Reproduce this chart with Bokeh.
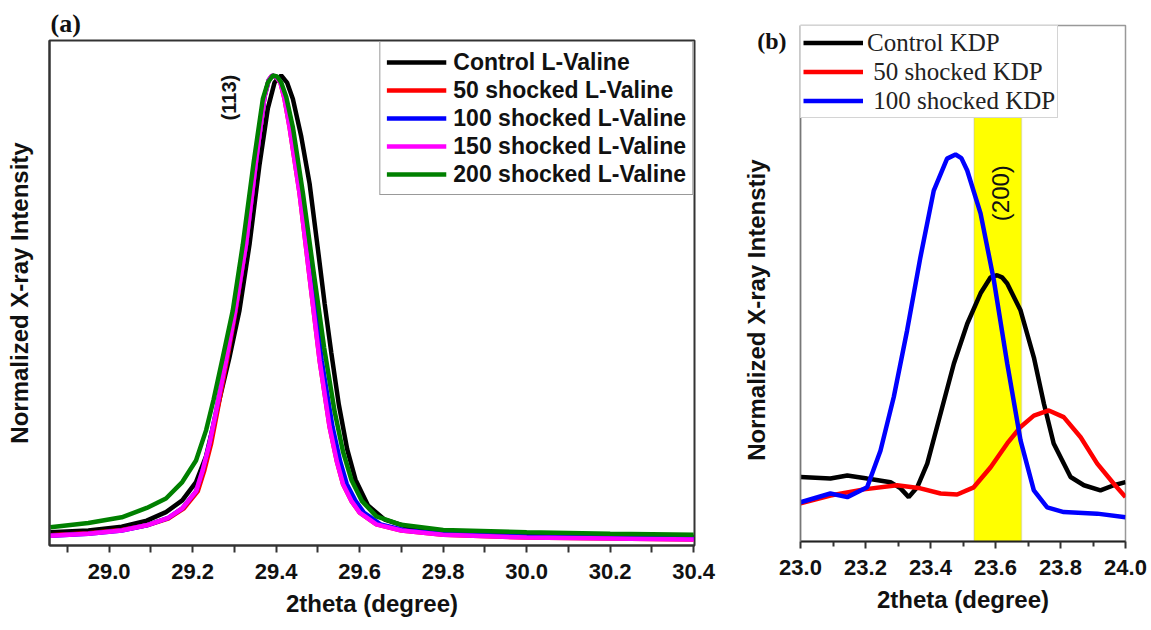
from math import pi
from bokeh.plotting import figure
from bokeh.layouts import row, column
from bokeh.models import FixedTicker, Label, BoxAnnotation, Range1d
from bokeh.embed import file_html
from bokeh.resources import INLINE

# ---------------- Panel (a): L-Valine (113) ----------------
a_labels = ["Control L-Valine", "50 shocked L-Valine", "100 shocked L-Valine",
            "150 shocked L-Valine", "200 shocked L-Valine"]
a_colors = ["#000000", "#ff0000", "#0000ff", "#ff00ff", "#008000"]

a_ctrl_x = [28.859, 28.95, 29.03, 29.09, 29.136, 29.175, 29.208, 29.232, 29.248, 29.264,
            29.288, 29.312, 29.336, 29.360, 29.380, 29.396, 29.412, 29.426, 29.440, 29.460,
            29.480, 29.500, 29.516, 29.532, 29.550, 29.570, 29.590, 29.620, 29.660, 29.720,
            29.800, 30.000, 30.200, 30.400]
a_ctrl_y = [0.028, 0.032, 0.040, 0.053, 0.071, 0.096, 0.135, 0.190, 0.250, 0.310,
            0.400, 0.500, 0.640, 0.810, 0.930, 0.985, 1.000, 0.985, 0.950, 0.870,
            0.770, 0.630, 0.515, 0.410, 0.300, 0.205, 0.140, 0.085, 0.055, 0.038,
            0.030, 0.024, 0.020, 0.018]

a_50_x = [28.859, 28.95, 29.03, 29.09, 29.143, 29.179, 29.212, 29.228, 29.244, 29.259,
          29.282, 29.303, 29.328, 29.352, 29.372, 29.382, 29.390, 29.400, 29.410, 29.420,
          29.432, 29.456, 29.480, 29.504, 29.528, 29.545, 29.560, 29.580, 29.600, 29.640,
          29.700, 29.800, 30.000, 30.200, 30.400]
a_50_y = [0.022, 0.026, 0.033, 0.043, 0.058, 0.079, 0.115, 0.160, 0.216, 0.285,
          0.394, 0.500, 0.642, 0.819, 0.955, 0.990, 1.000, 0.997, 0.985, 0.950,
          0.890, 0.749, 0.571, 0.394, 0.252, 0.180, 0.131, 0.095, 0.070, 0.045,
          0.032, 0.023, 0.017, 0.015, 0.013]

a_100_x = [28.859, 28.95, 29.03, 29.09, 29.14, 29.175, 29.208, 29.224, 29.240, 29.256,
           29.280, 29.302, 29.328, 29.352, 29.372, 29.382, 29.391, 29.401, 29.411, 29.422,
           29.434, 29.459, 29.484, 29.509, 29.535, 29.553, 29.569, 29.590, 29.610, 29.650,
           29.710, 29.800, 30.000, 30.200, 30.400]
a_100_y = [0.021, 0.025, 0.032, 0.043, 0.058, 0.079, 0.115, 0.160, 0.216, 0.285,
           0.394, 0.500, 0.642, 0.819, 0.955, 0.990, 1.000, 0.997, 0.985, 0.950,
           0.890, 0.749, 0.571, 0.394, 0.252, 0.180, 0.131, 0.095, 0.070, 0.045,
           0.032, 0.025, 0.019, 0.017, 0.015]

a_150_x = [28.859, 28.95, 29.03, 29.09, 29.14, 29.175, 29.208, 29.224, 29.240, 29.256,
           29.280, 29.302, 29.328, 29.352, 29.372, 29.382, 29.390, 29.400, 29.410, 29.420,
           29.432, 29.456, 29.480, 29.504, 29.528, 29.545, 29.560, 29.580, 29.600, 29.640,
           29.700, 29.800, 30.000, 30.200, 30.400]
a_150_y = [0.021, 0.025, 0.032, 0.043, 0.058, 0.079, 0.115, 0.160, 0.216, 0.285,
           0.394, 0.500, 0.642, 0.819, 0.955, 0.990, 1.000, 0.997, 0.985, 0.950,
           0.890, 0.749, 0.571, 0.394, 0.252, 0.180, 0.131, 0.095, 0.070, 0.045,
           0.032, 0.023, 0.017, 0.015, 0.013]

a_200_x = [28.859, 28.95, 29.03, 29.09, 29.136, 29.175, 29.208, 29.232, 29.250, 29.272,
           29.296, 29.320, 29.346, 29.368, 29.380, 29.392, 29.402, 29.412, 29.424, 29.440,
           29.464, 29.490, 29.515, 29.540, 29.560, 29.580, 29.605, 29.640, 29.700, 29.800,
           30.000, 30.200, 30.400]
a_200_y = [0.039, 0.048, 0.060, 0.080, 0.100, 0.135, 0.181, 0.245, 0.310, 0.400,
           0.500, 0.640, 0.815, 0.950, 0.985, 1.000, 0.998, 0.985, 0.955, 0.890,
           0.750, 0.580, 0.420, 0.285, 0.200, 0.140, 0.095, 0.062, 0.044, 0.033,
           0.028, 0.025, 0.023]

a_x = [a_ctrl_x, a_50_x, a_100_x, a_150_x, a_200_x]
a_y = [a_ctrl_y, a_50_y, a_100_y, a_150_y, a_200_y]

a_ticks = [29.0, 29.2, 29.4, 29.6, 29.8, 30.0, 30.2, 30.4]
a_tick_labels = ["29.0", "29.2", "29.4", "29.6", "29.8", "30.0", "30.2", "30.4"]
a_minor = [28.9, 29.1, 29.3, 29.5, 29.7, 29.9, 30.1, 30.3]
a_peak_label = "(113)"
a_peak_pos = (29.288, 0.953)

# ---------------- Panel (b): KDP (200) ----------------
b_labels = ["Control KDP", " 50 shocked KDP", " 100 shocked KDP"]
b_colors = ["#000000", "#ff0000", "#0000ff"]

b_ctrl_x = [23.000, 23.092, 23.144, 23.205, 23.277, 23.308, 23.333, 23.359, 23.390, 23.431,
            23.472, 23.513, 23.554, 23.585, 23.605, 23.620, 23.636, 23.677, 23.718, 23.749,
            23.779, 23.831, 23.872, 23.923, 23.964, 24.000]
b_ctrl_y = [12.5, 12.2, 12.8, 12.2, 11.5, 10.3, 8.6, 10.5, 15.1, 24.8,
            34.5, 42.2, 48.1, 51.2, 51.6, 51.2, 50.0, 44.8, 35.7, 26.7,
            19.0, 12.5, 10.9, 9.9, 10.9, 11.5]

b_50_x = [23.000, 23.092, 23.195, 23.297, 23.369, 23.431, 23.482, 23.533, 23.585, 23.636,
          23.677, 23.718, 23.764, 23.810, 23.862, 23.913, 23.964, 24.000]
b_50_y = [7.4, 8.9, 10.1, 10.9, 10.3, 9.3, 9.1, 10.5, 14.4, 19.0,
          22.2, 24.4, 25.4, 24.1, 20.2, 15.1, 11.2, 8.6]

b_100_x = [23.000, 23.092, 23.144, 23.205, 23.246, 23.287, 23.328, 23.369, 23.410, 23.451,
           23.477, 23.495, 23.513, 23.554, 23.595, 23.636, 23.677, 23.718, 23.759, 23.810,
           23.913, 24.000]
b_100_y = [7.6, 9.3, 8.6, 10.5, 17.6, 28.0, 40.9, 55.1, 68.0, 74.2,
           75.0, 74.3, 71.9, 63.6, 50.6, 34.5, 19.6, 9.9, 6.6, 5.7,
           5.4, 4.7]

b_x = [b_ctrl_x, b_50_x, b_100_x]
b_y = [b_ctrl_y, b_50_y, b_100_y]

b_ticks = [23.0, 23.2, 23.4, 23.6, 23.8, 24.0]
b_tick_labels = ["23.0", "23.2", "23.4", "23.6", "23.8", "24.0"]
b_minor = [23.1, 23.3, 23.5, 23.7, 23.9]
b_band = (23.534, 23.680)
b_peak_label = "(200)"
b_peak_pos = (23.615, 67.5)
b_tag = "(b)"
b_tag_y = 97.0

SANS = "Liberation Sans"
SERIF = "Liberation Serif"


def style_axis(ax, label_size="24px", tick_size="22px"):
    ax.axis_label_text_font = SANS
    ax.axis_label_text_font_style = "bold"
    ax.axis_label_text_font_size = label_size
    ax.axis_label_text_color = "#111111"
    ax.major_label_text_font = SANS
    ax.major_label_text_font_style = "bold"
    ax.major_label_text_font_size = tick_size
    ax.major_label_text_color = "#111111"
    ax.major_tick_line_color = "#333333"
    ax.minor_tick_line_color = "#333333"
    ax.major_tick_line_width = 2
    ax.minor_tick_line_width = 2


# ---------------- figure (a) ----------------
pa = figure(width=720, height=630, output_backend="svg", toolbar_location=None,
            title="(a)",
            x_range=Range1d(28.857, 30.402), y_range=Range1d(0, 1.0745),
            min_border_left=49, min_border_right=26, min_border_top=40, min_border_bottom=85)
pa.title.align = "left"
pa.title.offset = 1
pa.title.standoff = 5
pa.title.text_font = SERIF
pa.title.text_font_style = "bold"
pa.title.text_font_size = "26px"
pa.title.text_color = "#111111"
pa.grid.visible = False
pa.outline_line_color = "#333333"
pa.outline_line_width = 2

for xs, ys, c, lbl in zip(a_x, a_y, a_colors, a_labels):
    pa.line(xs, ys, line_color=c, line_width=4.5, legend_label=lbl)

pa.xaxis.ticker = FixedTicker(ticks=a_ticks, minor_ticks=a_minor)
pa.xaxis.major_label_overrides = dict(zip(a_ticks, a_tick_labels))
pa.xaxis.axis_label = "2theta (degree)"
pa.yaxis.axis_label = "Normalized X-ray Intensity"
for ax in (pa.xaxis, pa.yaxis):
    style_axis(ax)
    ax.axis_line_color = "#333333"
    ax.axis_line_width = 2
pa.xaxis.major_tick_out = 7
pa.xaxis.major_tick_in = 0
pa.xaxis.minor_tick_out = 7
pa.xaxis.minor_tick_in = 0
pa.xaxis.major_label_standoff = 11
pa.xaxis.axis_label_standoff = 8
pa.yaxis.ticker = FixedTicker(ticks=[])
pa.yaxis.major_label_text_font_size = "0px"
pa.yaxis.major_tick_out = 0
pa.yaxis.minor_tick_out = 0
pa.yaxis.major_label_standoff = 0
pa.yaxis.axis_label_standoff = 17

lg = pa.legend[0]
lg.location = "top_right"
lg.margin = 1
lg.padding = 6
lg.spacing = 0
lg.glyph_width = 60
lg.glyph_height = 28
lg.label_height = 28
lg.label_standoff = 7
lg.label_text_font = SANS
lg.label_text_font_style = "bold"
lg.label_text_font_size = "23px"
lg.label_text_color = "#111111"
lg.border_line_color = "#333333"
lg.border_line_width = 1.5
lg.background_fill_color = "white"
lg.background_fill_alpha = 1.0

pa.add_layout(Label(x=a_peak_pos[0], y=a_peak_pos[1], text=a_peak_label, angle=pi / 2,
                    text_align="center", text_baseline="middle", text_font=SANS,
                    text_font_style="bold", text_font_size="20px", text_color="#111111"))

# ---------------- figure (b) ----------------
pb = figure(width=431, height=630, output_backend="svg", toolbar_location=None,
            title=None,
            x_range=Range1d(23.0, 24.0), y_range=Range1d(0, 100),
            min_border_left=80, min_border_right=26, min_border_top=25, min_border_bottom=89)
pb.grid.visible = False
pb.outline_line_color = "#999999"
pb.outline_line_width = 1.5

pb.add_layout(BoxAnnotation(left=b_band[0], right=b_band[1], fill_color="#ffff00",
                            fill_alpha=1.0, line_color="#aaaaaa", line_width=1.5,
                            level="underlay"))

for xs, ys, c, lbl in zip(b_x, b_y, b_colors, b_labels):
    pb.line(xs, ys, line_color=c, line_width=4.5, legend_label=lbl)

pb.xaxis.ticker = FixedTicker(ticks=b_ticks, minor_ticks=b_minor)
pb.xaxis.major_label_overrides = dict(zip(b_ticks, b_tick_labels))
pb.xaxis.axis_label = "2theta (degree)"
# trailing no-break spaces move the (bottom-to-top) label a little lower, as in the original
pb.yaxis.axis_label = "Normalized X-ray Intenstiy" + "\u00a0" * 8
for ax in (pb.xaxis, pb.yaxis):
    style_axis(ax)
pb.xaxis.axis_line_color = "#222222"
pb.xaxis.axis_line_width = 2
pb.yaxis.axis_line_color = "#777777"
pb.yaxis.axis_line_width = 1.5
pb.xaxis.major_tick_out = 7
pb.xaxis.major_tick_in = 0
pb.xaxis.minor_tick_out = 5
pb.xaxis.minor_tick_in = 0
pb.xaxis.major_label_standoff = 11
pb.xaxis.axis_label_standoff = 8
# the panel tag "(b)" is the only (tick-less) label of the left axis
pb.yaxis.ticker = FixedTicker(ticks=[b_tag_y])
pb.yaxis.major_label_overrides = {b_tag_y: b_tag}
pb.yaxis.major_label_text_font = SERIF
pb.yaxis.major_label_text_font_style = "bold"
pb.yaxis.major_label_text_font_size = "24px"
pb.yaxis.major_tick_line_color = None
pb.yaxis.minor_tick_line_color = None
pb.yaxis.major_tick_out = 0
pb.yaxis.major_tick_in = 0
pb.yaxis.minor_tick_out = 0
pb.yaxis.minor_tick_in = 0
pb.yaxis.major_label_standoff = 14
pb.yaxis.axis_label_standoff = -16

lb = pb.legend[0]
lb.location = "top_left"
lb.margin = 0
lb.padding = 2
lb.spacing = 0
lb.glyph_width = 60
lb.glyph_height = 29
lb.label_height = 29
lb.label_standoff = 4
lb.label_text_font = SERIF
lb.label_text_font_size = "25px"
lb.label_text_color = "#222222"
lb.border_line_color = "#aaaaaa"
lb.border_line_width = 1
lb.background_fill_color = "white"
lb.background_fill_alpha = 1.0

pb.add_layout(Label(x=b_peak_pos[0], y=b_peak_pos[1], text=b_peak_label, angle=pi / 2,
                    text_align="center", text_baseline="middle", text_font=SANS,
                    text_font_size="24px", text_color="#111111"))

layout = row(column(pa), column(pb))
open("out.html", "w").write(file_html(layout, INLINE))
